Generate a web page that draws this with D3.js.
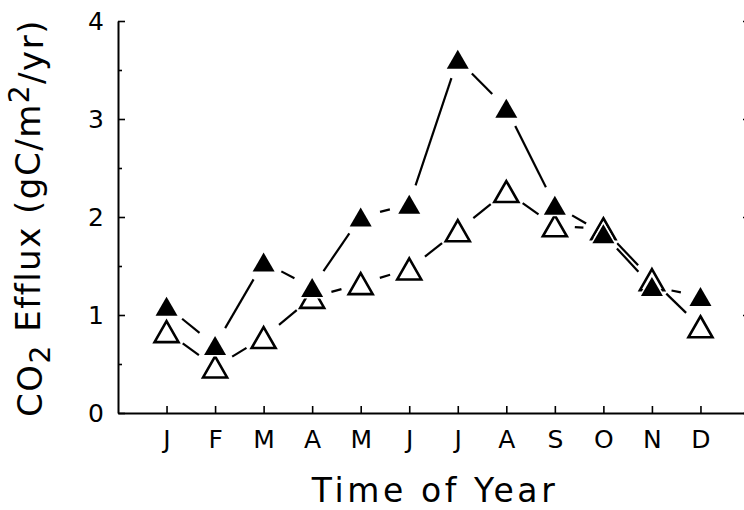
<!DOCTYPE html>
<html>
<head>
<meta charset="utf-8">
<script src="https://cdn.jsdelivr.net/npm/d3@7"></script>
<style>
  body { margin: 0; background: #fff; }
  text { font-family: 'DejaVu Sans', sans-serif; fill: #000; }
</style>
</head>
<body>
<div id="chart"></div>
<script>
const WIDTH = 744;
const HEIGHT = 510;

// month slots 1..12 on the x axis
const months = ['J', 'F', 'M', 'A', 'M', 'J', 'J', 'A', 'S', 'O', 'N', 'D'];
const closedValues = [1.09, 0.69, 1.54, 1.28, 2.00, 2.13, 3.61, 3.11, 2.12, 1.83, 1.29, 1.19];
const openValues = [0.83, 0.47, 0.77, 1.18, 1.32, 1.47, 1.86, 2.26, 1.91, 1.88, 1.36, 0.88];
const yMajor = [0, 1, 2, 3, 4];
const yMinor = [0.5, 1.5, 2.5, 3.5];

const GAP = 20; // lines stop short of the markers
const TRI = 'M0,-10.5L12,10.5L-12,10.5Z';

const x = d3.scaleLinear().domain([0, 13]).range([118, 749]);
const y = d3.scaleLinear().domain([0, 4]).range([413, 21]);

const svg = d3.select('#chart').append('svg')
  .attr('width', WIDTH)
  .attr('height', HEIGHT);

// axes
const left = svg.append('g').attr('transform', `translate(${x(0)},0)`)
  .call(d3.axisLeft(y).tickValues(yMajor).tickFormat(d3.format('d'))
    .tickSize(-7).tickSizeOuter(0).tickPadding(14));
svg.append('g').attr('transform', `translate(${x(0)},0)`)
  .call(d3.axisLeft(y).tickValues(yMinor).tickFormat('').tickSize(-4).tickSizeOuter(0))
  .call(g => g.select('.domain').remove());

svg.append('g').attr('transform', `translate(${x(13)},0)`)
  .call(d3.axisRight(y).tickValues(yMajor).tickFormat('').tickSize(-6).tickSizeOuter(0));

const bottom = svg.append('g').attr('transform', `translate(0,${y(0)})`)
  .call(d3.axisBottom(x).tickValues(d3.range(1, 13)).tickFormat(d => months[d - 1])
    .tickSize(-7).tickSizeOuter(0).tickPadding(17));

svg.selectAll('.domain').attr('stroke', '#000').attr('stroke-width', 2);
svg.selectAll('.tick line').attr('stroke', '#000').attr('stroke-width', 1.6);
left.selectAll('.tick text').attr('font-size', 25).attr('font-family', 'DejaVu Sans');
bottom.selectAll('.tick text').attr('font-size', 25).attr('font-family', 'DejaVu Sans');

// connecting segments, trimmed at each end
function segments(vals) {
  const pts = vals.map((v, i) => [x(i + 1), y(v)]);
  const out = [];
  for (let i = 0; i < pts.length - 1; i++) {
    const [x0, y0] = pts[i];
    const [x1, y1] = pts[i + 1];
    const len = Math.hypot(x1 - x0, y1 - y0);
    if (len <= 2 * GAP) continue;
    const ux = (x1 - x0) / len, uy = (y1 - y0) / len;
    out.push([x0 + ux * GAP, y0 + uy * GAP, x1 - ux * GAP, y1 - uy * GAP]);
  }
  return out;
}

[openValues, closedValues].forEach(vals => {
  svg.append('g').selectAll('line')
    .data(segments(vals))
    .enter()
    .append('line')
    .attr('x1', d => d[0]).attr('y1', d => d[1])
    .attr('x2', d => d[2]).attr('y2', d => d[3])
    .attr('stroke', '#000')
    .attr('stroke-width', 2.2);
});

svg.append('g').selectAll('path')
  .data(openValues)
  .enter()
  .append('path')
  .attr('d', TRI)
  .attr('transform', (d, i) => `translate(${x(i + 1)},${y(d)})`)
  .attr('fill', '#fff')
  .attr('stroke', '#000')
  .attr('stroke-width', 2.6)
  .attr('stroke-linejoin', 'miter');

svg.append('g').selectAll('path')
  .data(closedValues)
  .enter()
  .append('path')
  .attr('d', 'M0,-9.5L11,9.5L-11,9.5Z')
  .attr('transform', (d, i) => `translate(${x(i + 1)},${y(d)})`)
  .attr('fill', '#000')
  .attr('stroke', '#fff')
  .attr('stroke-width', 3)
  .attr('paint-order', 'stroke');

// titles
svg.append('text')
  .attr('x', 435)
  .attr('y', 502)
  .attr('text-anchor', 'middle')
  .attr('font-size', 33)
  .attr('letter-spacing', 3.6)
  .text('Time of Year');

const yt = svg.append('text')
  .attr('transform', 'translate(42,218) rotate(-90)')
  .attr('text-anchor', 'middle')
  .attr('font-size', 34)
  .attr('letter-spacing', 1.5);
yt.append('tspan').text('CO');
yt.append('tspan').attr('dy', '0.3em').attr('font-size', 28).text('2');
yt.append('tspan').attr('dy', '-0.3em').text(' Efflux (gC/m');
yt.append('tspan').attr('dy', '-0.4em').attr('font-size', 28).text('2');
yt.append('tspan').attr('dy', '0.4em').text('/yr)');
</script>
</body>
</html>
